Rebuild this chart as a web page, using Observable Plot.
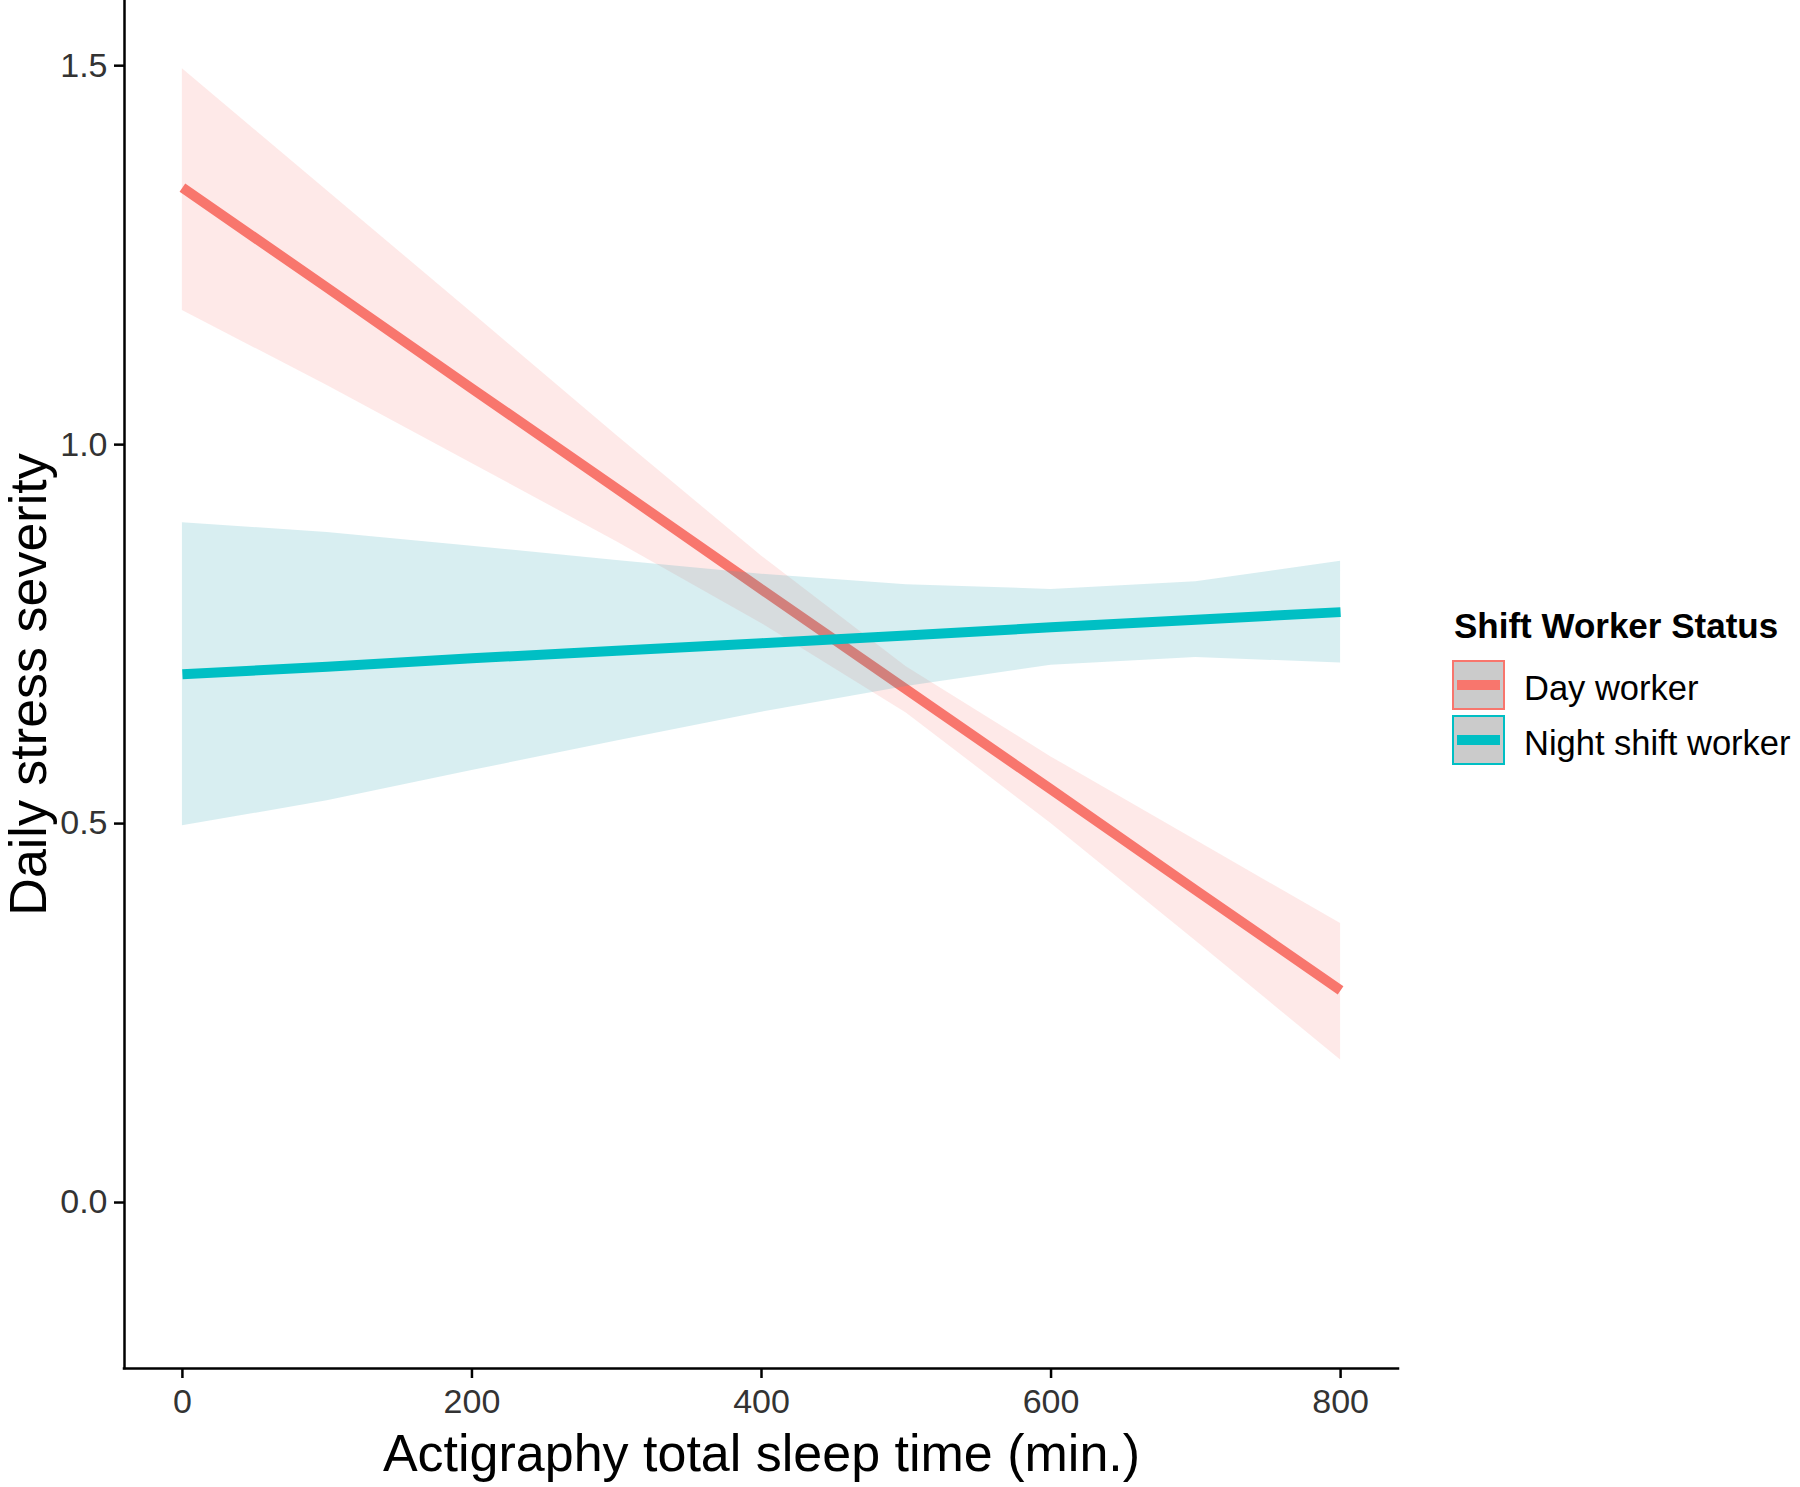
<!DOCTYPE html>
<html>
<head>
<meta charset="utf-8">
<script src="https://cdn.jsdelivr.net/npm/d3@7"></script>
<script src="https://cdn.jsdelivr.net/npm/@observablehq/plot@0.6"></script>
<style>
  html, body { margin: 0; padding: 0; background: white; }
  #wrap { position: relative; width: 1800px; height: 1487px; }
  #legend { position: absolute; left: 1440px; top: 590px; }
</style>
</head>
<body>
<div id="wrap"></div>
<script>
// ---- data ----
const sleepMinutes = [0, 100, 200, 300, 400, 500, 600, 700, 800];
const dayFit  = [1.339, 1.207, 1.074, 0.942, 0.809, 0.677, 0.545, 0.412, 0.280];
const dayLow  = [1.177, 1.078, 0.975, 0.872, 0.764, 0.646, 0.500, 0.345, 0.188];
const dayHigh = [1.496, 1.335, 1.174, 1.012, 0.853, 0.707, 0.588, 0.478, 0.368];
const nightFit  = [0.697, 0.707, 0.718, 0.728, 0.738, 0.748, 0.759, 0.769, 0.779];
const nightLow  = [0.497, 0.530, 0.570, 0.609, 0.647, 0.681, 0.709, 0.719, 0.712];
const nightHigh = [0.897, 0.884, 0.866, 0.847, 0.829, 0.815, 0.809, 0.819, 0.846];
const groups = ["Day worker", "Night shift worker"];
const lineColors = ["#F8766D", "#00BFC4"];
const ribbonColors = ["#F8766D", "#3CAAB9"];
const xTicks = [0, 200, 400, 600, 800];
const yTicks = [0.0, 0.5, 1.0, 1.5];
const xDomain = [-40, 840];
const yDomain = [-0.219, 1.586];
const xTitle = "Actigraphy total sleep time (min.)";
const yTitle = "Daily stress severity";
const legendTitle = "Shift Worker Status";

const day = sleepMinutes.map((x, i) => ({x, fit: dayFit[i], lo: dayLow[i], hi: dayHigh[i]}));
const night = sleepMinutes.map((x, i) => ({x, fit: nightFit[i], lo: nightLow[i], hi: nightHigh[i]}));

const font = "'Liberation Sans', Arial, Helvetica, sans-serif";

const chart = Plot.plot({
  width: 1800,
  height: 1487,
  marginLeft: 124,
  marginRight: 402,
  marginTop: 0,
  marginBottom: 119,
  style: {fontFamily: font, background: "white", overflow: "visible"},
  x: {domain: xDomain},
  y: {domain: yDomain},
  marks: [
    Plot.areaY(day, {x: "x", y1: "lo", y2: "hi", fill: ribbonColors[0], fillOpacity: 0.16}),
    Plot.line(day, {x: "x", y: "fit", stroke: lineColors[0], strokeWidth: 10, strokeLinecap: "butt"}),
    Plot.areaY(night, {x: "x", y1: "lo", y2: "hi", fill: ribbonColors[1], fillOpacity: 0.2}),
    Plot.line(night, {x: "x", y: "fit", stroke: lineColors[1], strokeWidth: 10, strokeLinecap: "butt"}),
    Plot.ruleX([xDomain[0]], {stroke: "black", strokeWidth: 2.5, strokeLinecap: "square"}),
    Plot.ruleY([yDomain[0]], {stroke: "black", strokeWidth: 2.5, strokeLinecap: "square"}),
    Plot.axisX(xTicks, {tickSize: 10, tickPadding: 10, fontSize: 34, label: null, stroke: "black", strokeWidth: 2.5, fill: "#333"}),
    Plot.axisY(yTicks, {tickSize: 10, tickPadding: 7, fontSize: 34, label: null, tickFormat: d3.format(".1f"), stroke: "black", strokeWidth: 2.5, fill: "#333"}),
    Plot.text([xTitle], {frameAnchor: "bottom", textAnchor: "middle", dy: 102, fontSize: 52, fill: "black"}),
    Plot.text([yTitle], {frameAnchor: "left", textAnchor: "middle", rotate: -90, dx: -95, fontSize: 52, fill: "black"})
  ]
});
document.getElementById("wrap").appendChild(chart);

// ---- legend ----
const leg = d3.select("#wrap").append("svg")
  .attr("id", "legend")
  .attr("width", 360).attr("height", 190)
  .style("font-family", font);
leg.append("text").attr("x", 14).attr("y", 48)
  .attr("font-size", 35).attr("font-weight", "bold").attr("fill", "black")
  .text(legendTitle);
const keyTops = [71, 126];
groups.forEach((g, i) => {
  const gy = keyTops[i];
  leg.append("rect").attr("x", 13).attr("y", gy).attr("width", 51).attr("height", 48)
    .attr("fill", "#cbcbcb").attr("stroke", lineColors[i]).attr("stroke-width", 2);
  leg.append("line").attr("x1", 17).attr("x2", 60).attr("y1", gy + 24).attr("y2", gy + 24)
    .attr("stroke", lineColors[i]).attr("stroke-width", 10);
  leg.append("text").attr("x", 84).attr("y", gy + 39)
    .attr("font-size", 34.5).attr("fill", "black").text(g);
});
</script>
</body>
</html>
